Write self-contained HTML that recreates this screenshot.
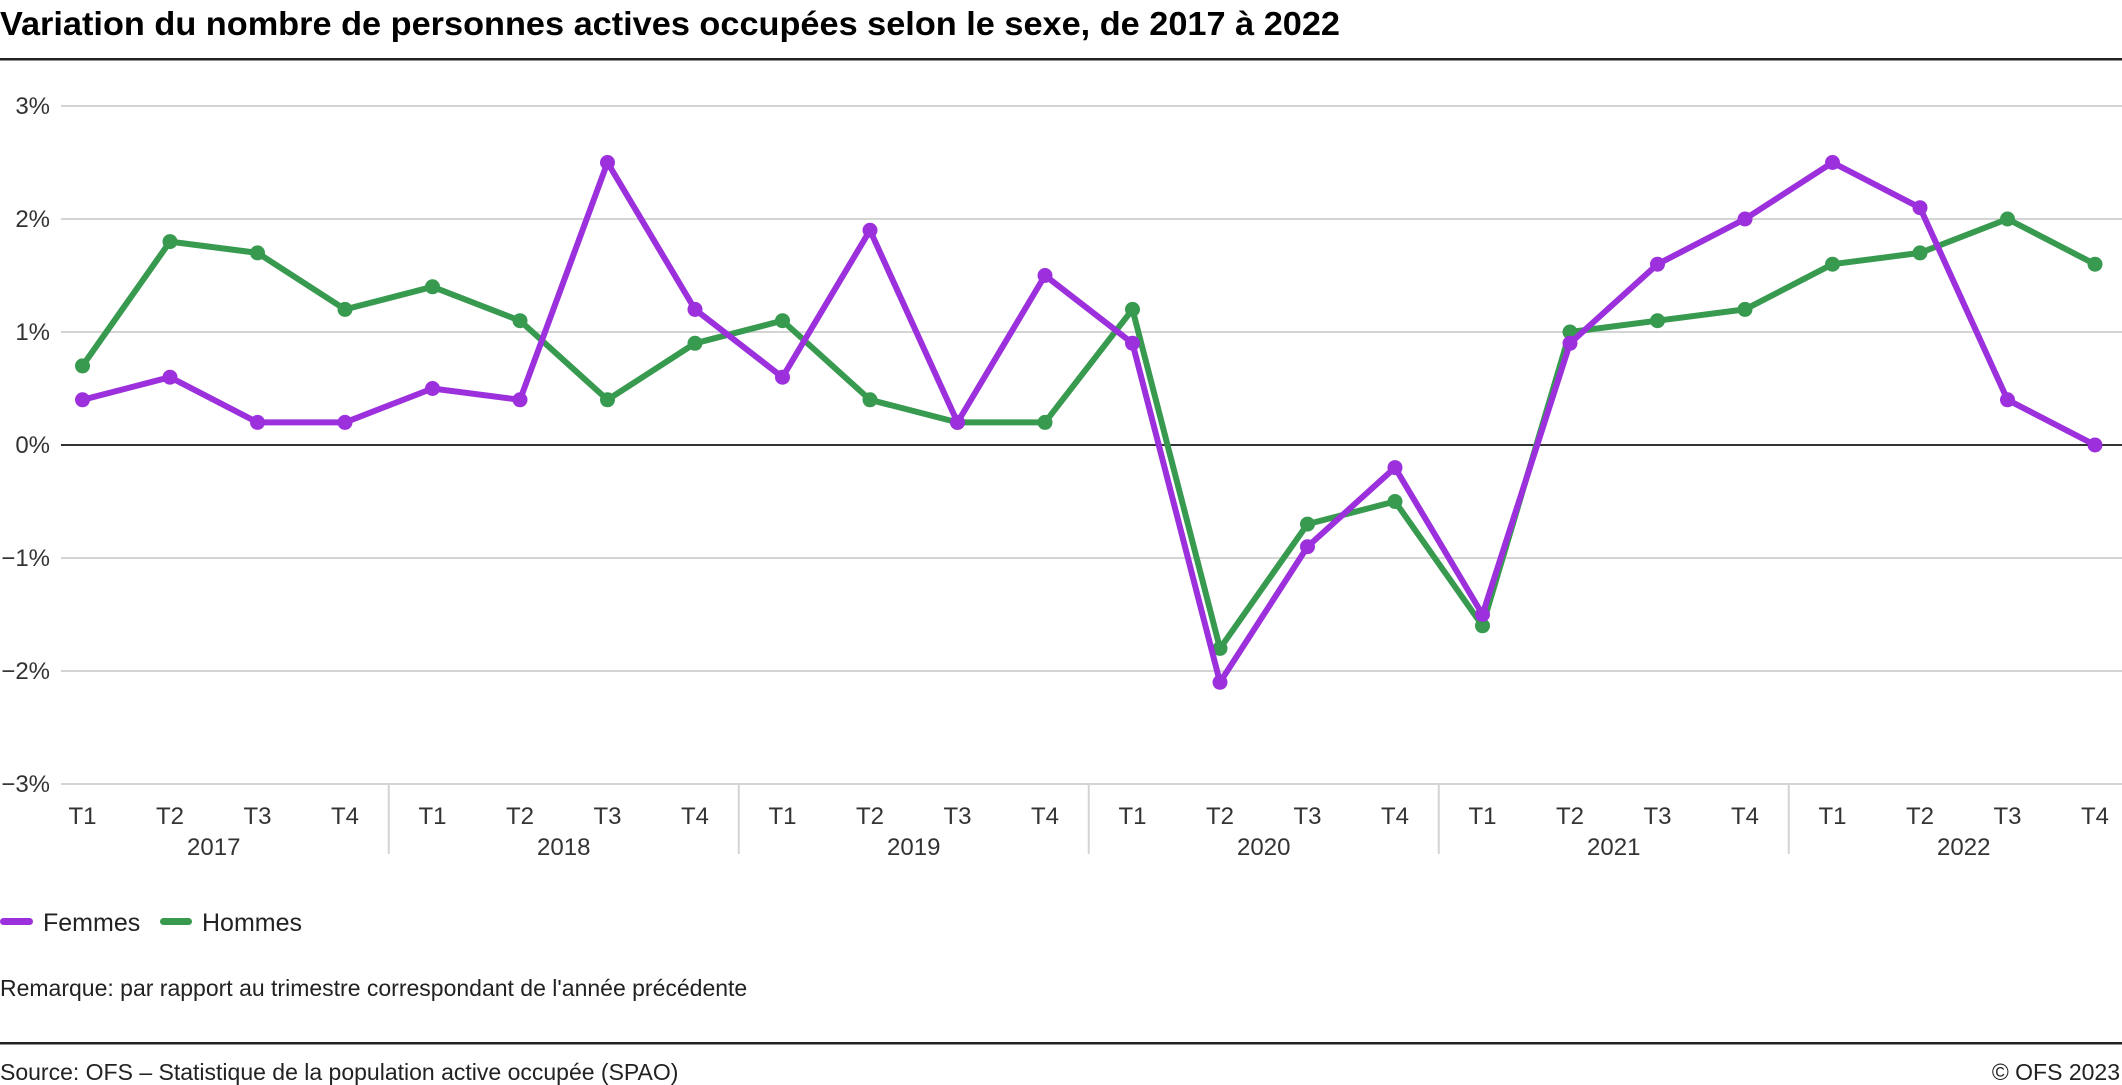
<!DOCTYPE html>
<html><head><meta charset="utf-8"><style>
html,body{margin:0;padding:0;background:#fff;}
svg{display:block;font-family:"Liberation Sans",sans-serif;}
</style></head><body>
<svg id="chart" width="2122" height="1085" viewBox="0 0 2122 1085">
<text x="0" y="35" font-size="33" font-weight="bold" fill="#000" textLength="1340" lengthAdjust="spacingAndGlyphs">Variation du nombre de personnes actives occupées selon le sexe, de 2017 à 2022</text>
<rect x="0" y="58" width="2122" height="2.5" fill="#222"/>
<g id="grid"></g>
<g id="xaxis"></g>
<g id="series"></g>
<g>
<g>
<rect x="0" y="918" width="33" height="7" rx="3.5" fill="#9b30dc"/>
<text x="43" y="931" font-size="25" fill="#222">Femmes</text></g>
<g>
<rect x="160" y="918" width="32" height="7" rx="3.5" fill="#379a4f"/>
<text x="202" y="931" font-size="25" fill="#222">Hommes</text></g>
</g>
<text x="0" y="996" font-size="23" fill="#222">Remarque: par rapport au trimestre correspondant de l'année précédente</text>
<rect x="0" y="1042" width="2122" height="2.5" fill="#222"/>
<text x="0" y="1080" font-size="23" fill="#222">Source: OFS – Statistique de la population active occupée (SPAO)</text>
<text x="2120" y="1080" font-size="23" fill="#222" text-anchor="end">© OFS 2023</text>
</svg>
<script>
const years = ["2017","2018","2019","2020","2021","2022"];
const quarters = ["T1","T2","T3","T4"];
const yTicks = [3,2,1,0,-1,-2,-3];
const yTickLabels = ["3%","2%","1%","0%","−1%","−2%","−3%"];
const femmes = [0.4,0.6,0.2,0.2, 0.5,0.4,2.5,1.2, 0.6,1.9,0.2,1.5, 0.9,-2.1,-0.9,-0.2, -1.5,0.9,1.6,2.0, 2.5,2.1,0.4,0.0];
const hommes = [0.7,1.8,1.7,1.2, 1.4,1.1,0.4,0.9, 1.1,0.4,0.2,0.2, 1.2,-1.8,-0.7,-0.5, -1.6,1.0,1.1,1.2, 1.6,1.7,2.0,1.6];

const NS="http://www.w3.org/2000/svg";
const plotL=61, plotR=2122, x0=82.5, step=87.5;
function x(i){return x0+i*step;}
function y(v){return 445-v*113;}
function mk(tag,attrs,parent){const e=document.createElementNS(NS,tag);for(const k in attrs)e.setAttribute(k,attrs[k]);parent.appendChild(e);return e;}
const grid=document.getElementById('grid');
yTicks.forEach((t,i)=>{
  const ln=mk('line',{x1:plotL,x2:plotR,y1:y(t),y2:y(t),stroke:t===0?'#333':'#d4d4d4','stroke-width':2},grid);
  
  
  const tx=mk('text',{x:50,y:y(t)+8,'font-size':24,'text-anchor':'end',fill:'#333'},grid);
  tx.textContent=yTickLabels[i];
  
  
});
const xa=document.getElementById('xaxis');
years.forEach((yr,j)=>{
  quarters.forEach((q,k)=>{
    const i=j*4+k;
    const t=mk('text',{x:x(i),y:824,'font-size':24,'text-anchor':'middle',fill:'#333'},xa);
    t.textContent=q;
    
    
  });
  const yt=mk('text',{x:(x(j*4)+x(j*4+3))/2,y:855,'font-size':24,'text-anchor':'middle',fill:'#333'},xa);
  yt.textContent=yr;
  
  
  if(j>0){
    const d=mk('line',{x1:x(j*4)-step/2,x2:x(j*4)-step/2,y1:784,y2:854,stroke:'#d4d4d4','stroke-width':2},xa);
    
    
  }
});
const sg=document.getElementById('series');
function drawSeries(vals,color,name){
  const g=mk('g',{},sg);
  
  
  const pts=vals.map((v,i)=>x(i)+','+y(v)).join(' ');
  const pl=mk('polyline',{points:pts,fill:'none',stroke:color,'stroke-width':6,'stroke-linejoin':'round'},g);
  
  
  vals.forEach((v,i)=>{
    const c=mk('circle',{cx:x(i),cy:y(v),r:7.5,fill:color},g);
    
    
  });
}
drawSeries(hommes,'#379a4f','hommes');
drawSeries(femmes,'#9b30dc','femmes');
</script>
</body></html>
